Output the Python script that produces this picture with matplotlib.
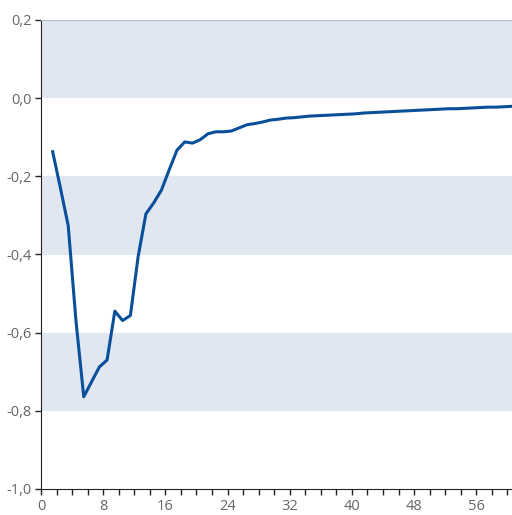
import matplotlib.pyplot as plt
import numpy as np
from matplotlib.ticker import FuncFormatter, MultipleLocator

plt.rcParams['font.family'] = ['Open Sans', 'DejaVu Sans']

# horizon (quarters) and response
periods = np.arange(1, 61)
response = [
    -0.137, -0.230, -0.326, -0.570, -0.764, -0.726, -0.688, -0.670, -0.545, -0.569,
    -0.556, -0.405, -0.296, -0.268, -0.235, -0.183, -0.133, -0.112, -0.115, -0.106,
    -0.091, -0.086, -0.086, -0.084, -0.076, -0.068, -0.065, -0.061, -0.056, -0.054,
    -0.051, -0.050, -0.048, -0.046, -0.045, -0.044, -0.043, -0.042, -0.041, -0.040,
    -0.038, -0.037, -0.036, -0.035, -0.034, -0.033, -0.032, -0.031, -0.030, -0.029,
    -0.028, -0.027, -0.027, -0.026, -0.025, -0.024, -0.023, -0.023, -0.022, -0.021,
]
bands = [(0.0, 0.2), (-0.4, -0.2), (-0.8, -0.6)]

fig = plt.figure(figsize=(5.12, 5.15), dpi=100)
ax = fig.add_axes([41 / 512, 1 - 489 / 515, 471 / 512, 469 / 515])

for lo, hi in bands:
    ax.axhspan(lo, hi, color="#e1e7f1", lw=0, zorder=0)

# points sit in the middle of each period
ax.plot(periods + 0.5, response, color="#0a4f9a", lw=2.2, zorder=3)

ax.set_xlim(0, 60.6)
ax.set_ylim(-1.0, 0.2)
ax.xaxis.set_major_locator(MultipleLocator(8))
ax.xaxis.set_minor_locator(MultipleLocator(2))
ax.yaxis.set_major_locator(MultipleLocator(0.2))
ax.yaxis.set_major_formatter(FuncFormatter(lambda v, p: f"{v:.1f}".replace(".", ",").replace("-0,0", "0,0")))

ax.spines["right"].set_visible(False)
ax.spines["top"].set_color("#b8bfcc")
ax.spines["left"].set_color("#222222")
ax.spines["bottom"].set_color("#222222")
ax.tick_params(axis="both", which="both", direction="out", color="#222222",
               labelcolor="#666666", labelsize=10.5, width=1)
ax.tick_params(axis="both", which="major", length=4, pad=3)
ax.tick_params(axis="x", which="minor", length=4)

fig.savefig("out.png", dpi=100)
